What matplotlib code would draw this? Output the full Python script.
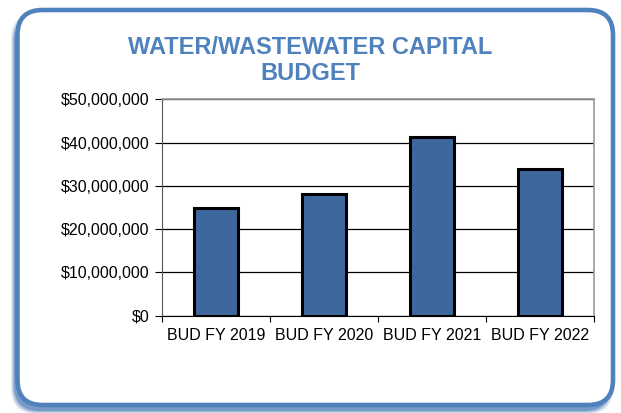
import numpy as np
import matplotlib
matplotlib.use("Agg")
import matplotlib.pyplot as plt
from matplotlib.patches import FancyBboxPatch
from matplotlib.ticker import FuncFormatter

# chart data
categories = ["BUD FY 2019", "BUD FY 2020", "BUD FY 2021", "BUD FY 2022"]
budget = [24.8e6, 28.2e6, 41.3e6, 33.8e6]
yticks = [0, 10e6, 20e6, 30e6, 40e6, 50e6]

plt.rcParams['font.family'] = ['Liberation Sans', 'DejaVu Sans']

W, H = 621, 413
fig = plt.figure(figsize=(W / 100, H / 100), dpi=100)

# background axes in pixel units for the rounded frame
bg = fig.add_axes([0, 0, 1, 1], zorder=0)
bg.set_xlim(0, W)
bg.set_ylim(H, 0)
bg.axis("off")

# soft shadow, offset down and to the left
for i, a in enumerate([0.15, 0.2, 0.3, 0.45]):
    grow = 3 - i
    sh = FancyBboxPatch((14 - grow, 16 - grow), 596 + 2 * grow, 395 + 2 * grow,
                        boxstyle="round,pad=0,rounding_size=26",
                        facecolor="#4a78b5", edgecolor="none", alpha=a)
    bg.add_patch(sh)

frame = FancyBboxPatch((17.5, 10), 595.5, 395, boxstyle="round,pad=0,rounding_size=25",
                       facecolor="white", edgecolor="#4f81bd", lw=3.3)
bg.add_patch(frame)

bg.text(310, 47, "WATER/WASTEWATER CAPITAL", ha="center", va="center",
        fontsize=17, fontweight="bold", color="#4f81bd")
bg.text(310, 73, "BUDGET", ha="center", va="center",
        fontsize=17, fontweight="bold", color="#4f81bd")

# main chart
ax = fig.add_axes([162 / W, 1 - 315.7 / H, 432 / W, 216.4 / H], zorder=1)
ax.patch.set_alpha(0)
x = np.arange(len(categories))
ax.bar(x, budget, width=0.41, color="#3e679e", edgecolor="black", linewidth=2.2, zorder=3)

ax.set_xlim(-0.5, len(categories) - 0.5)
ax.set_ylim(0, 50e6)
ax.set_yticks(yticks)
ax.yaxis.set_major_formatter(FuncFormatter(lambda v, p: "${:,.0f}".format(v)))
ax.grid(axis="y", color="black", linewidth=0.9, zorder=1)

ax.set_xticks(np.arange(-0.5, len(categories)), minor=False)
ax.set_xticklabels([])
ax.set_xticks(x, minor=True)
ax.set_xticklabels(categories, minor=True)
ax.tick_params(axis="x", which="major", length=4, color="black")
ax.tick_params(axis="x", which="minor", length=0, pad=9, labelsize=11.5)
ax.tick_params(axis="y", length=5, labelsize=11.5, pad=4)

for s in ["top", "right"]:
    ax.spines[s].set_color("#999999")
    ax.spines[s].set_linewidth(1.2)
ax.spines["left"].set_color("#555555")
ax.spines["bottom"].set_color("black")

fig.savefig("out.png", dpi=100)
